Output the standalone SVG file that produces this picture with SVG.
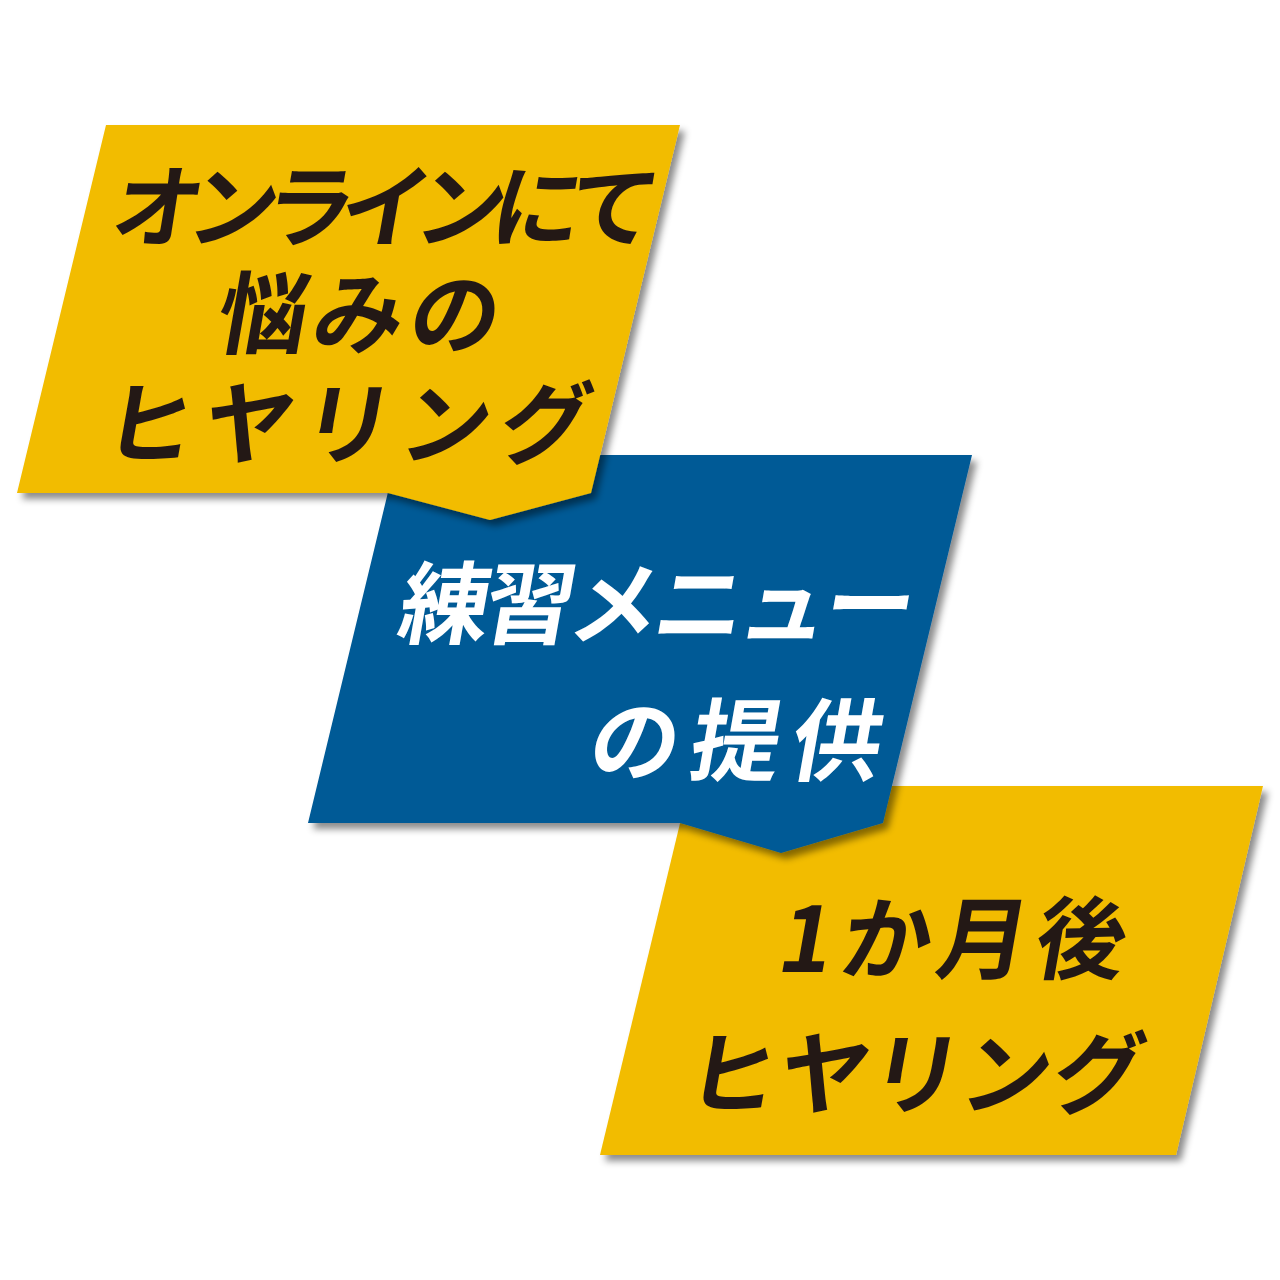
<svg xmlns="http://www.w3.org/2000/svg" width="1280" height="1280" viewBox="0 0 1280 1280">
<defs>
<filter id="sh" x="-10%" y="-10%" width="130%" height="130%">
<feDropShadow dx="5" dy="6" stdDeviation="3.5" flood-color="#000" flood-opacity="0.45"/>
</filter>
</defs>
<style>
.y{fill:#F2BC00;filter:url(#sh)}
.b{fill:#005A96;filter:url(#sh)}
.t{font-family:"Noto Sans CJK JP","Noto Sans",sans-serif;font-weight:700;font-size:90px}
.dk{fill:#231815}
.wh{fill:#FFFFFF}
</style>
<rect width="1280" height="1280" fill="#FFFFFF"/>
<g id="connectors"></g>
<g id="node3">
<polygon class="y" points="689,786 1263,786 1176,1155 600,1155"/>
<text class="t dk" transform="translate(775,972) skewX(-10)" x="0 62 158 256">1か月後</text>
<text class="t dk" transform="translate(683,1107) skewX(-10)" textLength="455" lengthAdjust="spacing">ヒヤリング</text>
</g>
<g id="node2">
<polygon class="b" points="397,455 972,455 883,823 781,853 680,823 308,823"/>
<text class="t wh" transform="translate(395,637) skewX(-10)" textLength="515" lengthAdjust="spacing">練習メニュー</text>
<text class="t wh" transform="translate(585,774) skewX(-10)" textLength="292" lengthAdjust="spacing">の提供</text>
</g>
<g id="node1">
<polygon class="y" points="106,125 680,125 591,493 490,520 388,493 17,493"/>
<text class="t dk" transform="translate(108,240) skewX(-10)" textLength="545" lengthAdjust="spacing">オンラインにて</text>
<text class="t dk" transform="translate(213,347) skewX(-10)" textLength="282" lengthAdjust="spacing">悩みの</text>
<text class="t dk" transform="translate(100,457) skewX(-10)" textLength="485" lengthAdjust="spacing">ヒヤリング</text>
</g>
</svg>
